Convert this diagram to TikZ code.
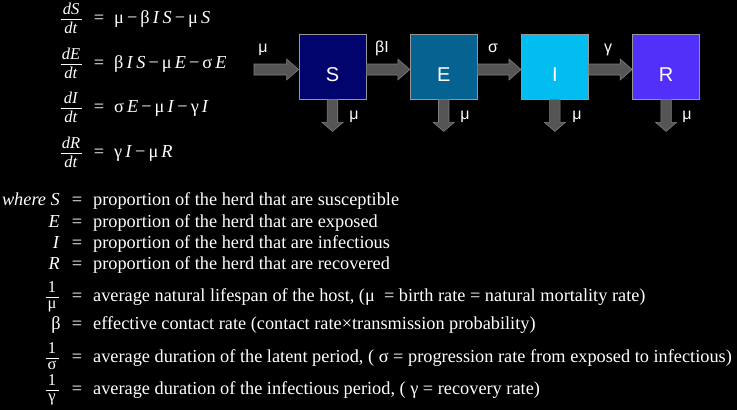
\documentclass[tikz,border=0pt]{standalone}
\usepackage{fontspec}
\setmainfont{Liberation Serif}
\newfontfamily\arialf{Liberation Sans}
\usetikzlibrary{calc}
\definecolor{cS}{RGB}{2,4,110}
\definecolor{cE}{RGB}{6,98,145}
\definecolor{cI}{RGB}{2,190,240}
\definecolor{cR}{RGB}{82,48,250}
\definecolor{boxedge}{RGB}{150,150,150}
\definecolor{arrfill}{RGB}{85,85,85}
\definecolor{arredge}{RGB}{125,125,125}
% fraction: name, x, axis y, numerator, denominator, denominator offset, half bar width
\newcommand{\fracnode}[7]{%
  \node[frt,anchor=base] (#1n) at (#2,#3-4.6) {#4};
  \node[frt,anchor=base] (#1d) at (#2,#3+#6) {#5};
  \draw[white,line width=0.85pt] (#2-#7,#3) -- (#2+#7,#3);}
\newcommand{\harr}[2]{%
  \filldraw[blk] let \p1=(#1), \p2=(#2) in
  (\x1,\y1+5.5pt) -- (\x2-12pt,\y1+5.5pt) -- (\x2-12pt,\y1+10.5pt) -- (\x2,\y1)
  -- (\x2-12pt,\y1-10.5pt) -- (\x2-12pt,\y1-5.5pt) -- (\x1,\y1-5.5pt) -- cycle;}
\newcommand{\varr}[2]{%
  \filldraw[blk] let \p1=(#1), \p2=(#2) in
  (\x1-5.25pt,\y1) -- (\x1-5.25pt,\y2+9pt) -- (\x1-10.5pt,\y2+9pt) -- (\x1,\y2)
  -- (\x1+10.5pt,\y2+9pt) -- (\x1+5.25pt,\y2+9pt) -- (\x1+5.25pt,\y1) -- cycle;}
\begin{document}
\begin{tikzpicture}[x=1pt,y=-1pt,
  every node/.style={inner sep=0pt,text=white},
  txt/.style={font=\fontsize{18.3}{22}\selectfont},
  frt/.style={font=\fontsize{16.5}{19}\selectfont},
  box/.style={draw=boxedge,line width=0.8pt,minimum width=67pt,minimum height=65pt,
    font=\arialf\fontsize{20}{20}\selectfont,text height=29pt,text depth=0pt},
  lab/.style={font=\arialf\fontsize{16}{16}\selectfont,anchor=base},
  blk/.style={fill=arrfill,draw=arredge,line width=0.6pt}]
\fill[black] (0,0) rectangle (737,410);
\useasboundingbox (0,0) rectangle (737,410);

% ---- equations ----
\fracnode{f1}{71}{19}{\textit{dS}}{\textit{dt}}{14.8}{10.5}
\node[txt,anchor=base] (q1) at (99,23.6) {=};
\node[txt,anchor=base west] (r1) at (114,23.6) {μ\,−\,β\,\textit{I}\,\textit{S}\,−\,μ\,\textit{S}};
\fracnode{f2}{71}{64}{\textit{dE}}{\textit{dt}}{14.8}{10.5}
\node[txt,anchor=base] (q2) at (99,68.6) {=};
\node[txt,anchor=base west] (r2) at (114,68.6) {β\,\textit{I}\,\textit{S}\,−\,μ\,\textit{E}\,−\,σ\,\textit{E}};
\fracnode{f3}{71}{108}{\textit{dI}}{\textit{dt}}{14.8}{10.5}
\node[txt,anchor=base] (q3) at (99,112.6) {=};
\node[txt,anchor=base west] (r3) at (114,112.6) {σ\,\textit{E}\,−\,μ\,\textit{I}\,−\,γ\,\textit{I}};
\fracnode{f4}{71}{153}{\textit{dR}}{\textit{dt}}{14.8}{10.5}
\node[txt,anchor=base] (q4) at (99,157.6) {=};
\node[txt,anchor=base west] (r4) at (114,157.6) {γ\,\textit{I}\,−\,μ\,\textit{R}};

% ---- definitions ----
\node[txt,anchor=base east] (w1) at (60,205.6) {\textit{where S}};
\node[txt,anchor=base] (v1) at (77,205.6) {=};
\node[txt,anchor=base west] (t1) at (93,205.6) {proportion of the herd that are susceptible};
\node[txt,anchor=base east] (w2) at (60,227.6) {\textit{E}};
\node[txt,anchor=base] (v2) at (77,227.6) {=};
\node[txt,anchor=base west] (t2) at (93,227.6) {proportion of the herd that are exposed};
\node[txt,anchor=base east] (w3) at (60,248.6) {\textit{I}};
\node[txt,anchor=base] (v3) at (77,248.6) {=};
\node[txt,anchor=base west] (t3) at (93,248.6) {proportion of the herd that are infectious};
\node[txt,anchor=base east] (w4) at (60,269.6) {\textit{R}};
\node[txt,anchor=base] (v4) at (77,269.6) {=};
\node[txt,anchor=base west] (t4) at (93,269.6) {proportion of the herd that are recovered};
\fracnode{w5}{52}{297}{1}{μ}{11}{6.5}
\node[txt,anchor=base] (v5) at (77,301.6) {=};
\node[txt,anchor=base west] (t5) at (93,301.6) {average natural lifespan of the host, (μ~ = birth rate = natural mortality rate)};
\node[txt,anchor=base east] (w6) at (61,329.6) {β};
\node[txt,anchor=base] (v6) at (77,329.6) {=};
\node[txt,anchor=base west] (t6) at (93,329.6) {effective contact rate (contact rate×transmission probability)};
\fracnode{w7}{52}{358}{1}{σ}{11}{6.5}
\node[txt,anchor=base] (v7) at (77,362.6) {=};
\node[txt,anchor=base west] (t7) at (93,362.6) {average duration of the latent period, ( σ = progression rate from exposed to infectious)};
\fracnode{w8}{52}{390}{1}{γ}{11}{6.5}
\node[txt,anchor=base] (v8) at (77,394.6) {=};
\node[txt,anchor=base west] (t8) at (93,394.6) {average duration of the infectious period, ( γ = recovery rate)};

% ---- compartment boxes ----
\node[box,fill=cS] (S) at (332.5,66.5) {S};
\node[box,fill=cE] (E) at (443.7,66.5) {E};
\node[box,fill=cI] (I) at (554.9,66.5) {I};
\node[box,fill=cR] (R) at (666.1,66.5) {R};

\coordinate (in) at (254,69.5);
\coordinate (Sd) at ([yshift=-32pt]S.south);
\coordinate (Ed) at ([yshift=-32pt]E.south);
\coordinate (Id) at ([yshift=-32pt]I.south);
\coordinate (Rd) at ([yshift=-32pt]R.south);

\harr{in}{[yshift=-3pt]S.west}
\harr{[yshift=-3pt]S.east}{[yshift=-3pt]E.west}
\harr{[yshift=-3pt]E.east}{[yshift=-3pt]I.west}
\harr{[yshift=-3pt]I.east}{[yshift=-3pt]R.west}
\varr{S.south}{Sd}
\varr{E.south}{Ed}
\varr{I.south}{Id}
\varr{R.south}{Rd}

\node[lab] (lin) at (263,52) {μ};
\node[lab] (lbeta) at (382,52) {βI};
\node[lab] (lsig) at (493,52) {σ};
\node[lab] (lgam) at (608,52) {γ};
\node[lab] (mS) at (354,119) {μ};
\node[lab] (mE) at (465,119) {μ};
\node[lab] (mI) at (577,119) {μ};
\node[lab] (mR) at (687,119) {μ};
\end{tikzpicture}
\end{document}
